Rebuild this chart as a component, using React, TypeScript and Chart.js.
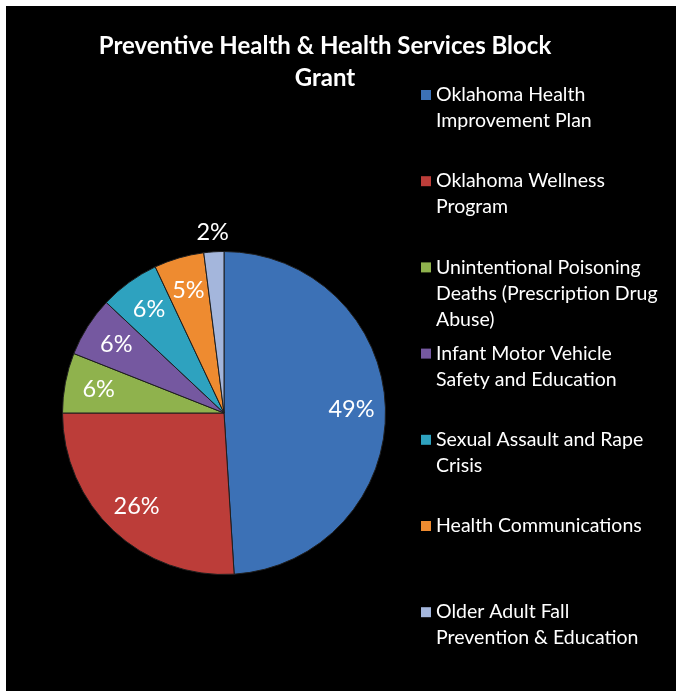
import React, { useEffect, useRef } from "react";
import { Chart, registerables } from "chart.js";

Chart.register(...registerables);

const titleLines = ["Preventive Health & Health Services Block", "Grant"];
const categories = [
  "Oklahoma Health Improvement Plan",
  "Oklahoma Wellness Program",
  "Unintentional Poisoning Deaths (Prescription Drug Abuse)",
  "Infant Motor Vehicle Safety and Education",
  "Sexual Assault and Rape Crisis",
  "Health Communications",
  "Older Adult Fall Prevention & Education",
];
const legendLines = [
  ["Oklahoma Health", "Improvement Plan"],
  ["Oklahoma Wellness", "Program"],
  ["Unintentional Poisoning", "Deaths (Prescription Drug", "Abuse)"],
  ["Infant Motor Vehicle", "Safety and Education"],
  ["Sexual Assault and Rape", "Crisis"],
  ["Health Communications"],
  ["Older Adult Fall", "Prevention & Education"],
];
const values = [49, 26, 6, 6, 6, 5, 2];
const colors = ["#3C71B6", "#BC3D39", "#8FB24D", "#7558A0", "#2EA2BF", "#EE8B30", "#A4B6DC"];

const FONT = "Lato, 'Open Sans', sans-serif";

const decor = {
  id: "decor",
  beforeDraw(chart: any) {
    const ctx = chart.ctx;
    ctx.save();
    ctx.fillStyle = "#ffffff";
    ctx.fillRect(0, 0, chart.width, chart.height);
    ctx.fillStyle = "#000000";
    ctx.fillRect(6, 6, chart.width - 6, chart.height - 6);
    ctx.restore();
  },
  afterDraw(chart: any) {
    const ctx = chart.ctx;
    ctx.save();
    // title
    ctx.fillStyle = "#ffffff";
    ctx.textAlign = "center";
    ctx.textBaseline = "alphabetic";
    ctx.font = `bold 24px ${FONT}`;
    titleLines.forEach((t, i) => ctx.fillText(t, 325, 54 + i * 32));

    // legend
    ctx.textAlign = "left";
    ctx.textBaseline = "middle";
    ctx.font = `19.5px ${FONT}`;
    legendLines.forEach((lines, i) => {
      const y0 = 95 + i * 86.2;
      ctx.fillStyle = colors[i];
      ctx.fillRect(421, y0 - 5, 10, 10);
      ctx.fillStyle = "#ffffff";
      lines.forEach((l, j) => ctx.fillText(l, 436, y0 + j * 26));
    });

    // data labels
    const meta = chart.getDatasetMeta(0);
    const total = values.reduce((a, b) => a + b, 0);
    ctx.textAlign = "center";
    ctx.textBaseline = "middle";
    ctx.font = `23.5px ${FONT}`;
    meta.data.forEach((arc: any, i: number) => {
      const mid = (arc.startAngle + arc.endAngle) / 2;
      const pct = Math.round((values[i] / total) * 100);
      const f = pct < 3 ? 1.12 : 0.79;
      const x = arc.x + Math.cos(mid) * arc.outerRadius * f;
      const y = arc.y + Math.sin(mid) * arc.outerRadius * f;
      ctx.fillStyle = "#ffffff";
      ctx.fillText(pct + "%", x, y);
    });
    ctx.restore();
  },
};

export default function App() {
  const ref = useRef<HTMLCanvasElement>(null);
  useEffect(() => {
    document.body.style.margin = "0";
    const chart = new Chart(ref.current!, {
      type: "pie",
      data: {
        labels: categories,
        datasets: [
          {
            data: values,
            backgroundColor: colors,
            borderColor: "#1e1e1e",
            borderWidth: 1,
          },
        ],
      },
      options: {
        responsive: false,
        animation: false,
        devicePixelRatio: 1,
        layout: { padding: { left: 62, top: 251, right: 290, bottom: 116 } },
        plugins: {
          legend: { display: false },
          title: { display: false },
          tooltip: { enabled: false },
        },
      },
      plugins: [decor],
    });
    return () => chart.destroy();
  }, []);
  return (
    <div style={{ position: "absolute", left: 0, top: 0, width: 676, height: 691 }}>
      <canvas ref={ref} width={676} height={691} />
    </div>
  );
}
